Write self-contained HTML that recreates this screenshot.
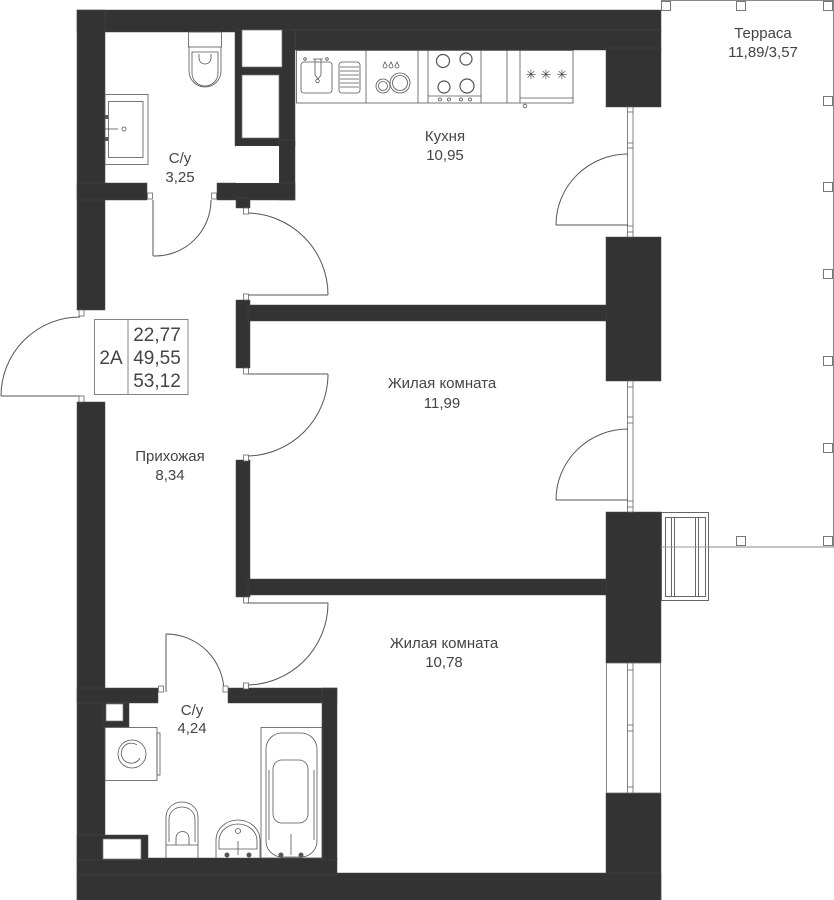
<!DOCTYPE html>
<html><head><meta charset="utf-8"><style>
html,body{margin:0;padding:0;background:#fff;}
svg{display:block;}
text{font-family:"Liberation Sans",sans-serif;fill:#444;}
</style></head><body>
<svg width="834" height="900" viewBox="0 0 834 900" xmlns="http://www.w3.org/2000/svg">
<!-- Terrace -->
<g fill="none" stroke="#888" stroke-width="1">
<path d="M661 0.5 H833.5 V547 H661"/>
</g>
<g fill="#fff" stroke="#777" stroke-width="1">
<rect x="661.5" y="1.5" width="9" height="9"/>
<rect x="736.5" y="1.5" width="9" height="9"/>
<rect x="823.5" y="1.5" width="9" height="9"/>
<rect x="823.5" y="96.5" width="9" height="9"/>
<rect x="823.5" y="182.5" width="9" height="9"/>
<rect x="823.5" y="269.5" width="9" height="9"/>
<rect x="823.5" y="356.5" width="9" height="9"/>
<rect x="823.5" y="443.5" width="9" height="9"/>
<rect x="823.5" y="536.5" width="9" height="9"/>
<rect x="736.5" y="536.5" width="9" height="9"/>
</g>
<!-- radiator -->
<g fill="none" stroke="#666" stroke-width="1">
<rect x="661.5" y="512.5" width="47" height="88"/>
<rect x="665.5" y="517.5" width="40" height="79"/>
<rect x="671.5" y="517.5" width="3" height="79"/>
<rect x="695.5" y="517.5" width="3" height="79"/>
</g>
<line x1="661" y1="547" x2="709" y2="547" stroke="#999" stroke-width="1"/>

<!-- Walls -->
<g fill="#333" stroke="#4a4a4a" stroke-width="0.5">
<rect x="77" y="10" width="584" height="22"/>
<rect x="295" y="30" width="366" height="20"/>
<rect x="606" y="48" width="55" height="59"/>
<rect x="235" y="30" width="60" height="116"/>
<rect x="279" y="140" width="16" height="60"/>
<rect x="77" y="10" width="28" height="300"/>
<rect x="77" y="183" width="70" height="17"/>
<rect x="217" y="183" width="78" height="17"/>
<rect x="236" y="198" width="14" height="10"/>
<rect x="236" y="300" width="14" height="68"/>
<rect x="248" y="305" width="360" height="16"/>
<rect x="606" y="237" width="55" height="144"/>
<rect x="236" y="460" width="14" height="137"/>
<rect x="248" y="579" width="360" height="16"/>
<rect x="606" y="512" width="55" height="151"/>
<rect x="606" y="793" width="55" height="107"/>
<rect x="77" y="402" width="28" height="498"/>
<rect x="77" y="873" width="584" height="27"/>
<rect x="77" y="858" width="260" height="17"/>
<rect x="77" y="688" width="81" height="15"/>
<rect x="228" y="688" width="109" height="15"/>
<rect x="322" y="688" width="15" height="172"/>
<rect x="103" y="703" width="26" height="24"/>
<rect x="77" y="835" width="71" height="25"/>
</g>
<!-- shaft boxes -->
<g fill="#fff" stroke="#777" stroke-width="0.7">
<rect x="242" y="30" width="40" height="37"/>
<rect x="242" y="75" width="37" height="63"/>
<rect x="106" y="704" width="17" height="17"/>
<rect x="103" y="839" width="38" height="20"/>
</g>
<rect x="236" y="146" width="43" height="37" fill="#fff"/>

<!-- Windows -->
<g fill="#fff" stroke="#666" stroke-width="0.8">
<rect x="627.5" y="107" width="5.5" height="130"/>
<rect x="627.5" y="381" width="5.5" height="131"/>
<rect x="606.5" y="663" width="54" height="130"/>
<rect x="627.5" y="663" width="5.5" height="130"/>
</g>
<g stroke="#666" stroke-width="0.8">
<line x1="627" y1="112" x2="633" y2="112"/>
<line x1="627" y1="143" x2="633" y2="143"/>
<line x1="627" y1="148" x2="633" y2="148"/>
<line x1="627" y1="226" x2="633" y2="226"/>
<line x1="627" y1="232" x2="633" y2="232"/>
<line x1="627" y1="387" x2="633" y2="387"/>
<line x1="627" y1="417" x2="633" y2="417"/>
<line x1="627" y1="423" x2="633" y2="423"/>
<line x1="627" y1="501" x2="633" y2="501"/>
<line x1="627" y1="507" x2="633" y2="507"/>
<line x1="627" y1="670" x2="633" y2="670"/>
<line x1="627" y1="725" x2="633" y2="725"/>
<line x1="627" y1="731" x2="633" y2="731"/>
<line x1="627" y1="787" x2="633" y2="787"/>
</g>

<!-- Doors -->
<g fill="none" stroke="#555" stroke-width="1">
<line x1="1" y1="396" x2="80" y2="396"/>
<path d="M1 396 A79 79 0 0 1 80 317"/>
<line x1="153" y1="200" x2="153" y2="256"/>
<path d="M153 256 A56 56 0 0 0 211 200"/>
<line x1="246" y1="295" x2="328" y2="295"/>
<path d="M328 295 A82 82 0 0 0 246 213"/>
<line x1="246" y1="374" x2="328" y2="374"/>
<path d="M328 374 A82 82 0 0 1 246 456"/>
<line x1="246" y1="603" x2="328" y2="603"/>
<path d="M328 603 A82 82 0 0 1 246 685"/>
<line x1="166" y1="692" x2="166" y2="634"/>
<path d="M166 634 A58 58 0 0 1 224 692"/>
<line x1="556" y1="225" x2="628" y2="225"/>
<path d="M556 225 A72 71 0 0 1 628 154"/>
<line x1="556" y1="500" x2="628" y2="500"/>
<path d="M556 500 A72 71 0 0 1 628 429"/>
</g>
<!-- jambs -->
<g fill="#fff" stroke="#666" stroke-width="0.8">
<rect x="79" y="310" width="5" height="6"/>
<rect x="79" y="396" width="5" height="6"/>
<rect x="147.5" y="193" width="5" height="6"/>
<rect x="211.5" y="193" width="5" height="6"/>
<rect x="243.5" y="208" width="5" height="6"/>
<rect x="243.5" y="294" width="5" height="6"/>
<rect x="243.5" y="368" width="5" height="6"/>
<rect x="243.5" y="455" width="5" height="6"/>
<rect x="243.5" y="597" width="5" height="6"/>
<rect x="243.5" y="683" width="5" height="6"/>
<rect x="158.5" y="686" width="5" height="6"/>
<rect x="223" y="686" width="5" height="6"/>
</g>

<!-- Kitchen counter -->
<g fill="none" stroke="#555" stroke-width="0.8">
<rect x="296.5" y="50.5" width="276.5" height="52.5"/>
<line x1="366" y1="50" x2="366" y2="103"/>
<line x1="418" y1="50" x2="418" y2="103"/>
<line x1="428" y1="50" x2="428" y2="103"/>
<line x1="481" y1="50" x2="481" y2="103"/>
<line x1="507" y1="50" x2="507" y2="103"/>
<line x1="520" y1="50" x2="520" y2="103"/>
<line x1="428" y1="96" x2="481" y2="96"/>
<line x1="520" y1="98" x2="573" y2="98"/>
<rect x="301" y="62" width="31" height="31" rx="3"/>
<path d="M313 59 H323 M315 59 V75 L318 79 L321 75 V59"/>
<circle cx="317.5" cy="81" r="1.8"/>
<circle cx="305" cy="59" r="1.3"/>
<circle cx="327" cy="59" r="1.3"/>
<rect x="339" y="62" width="21" height="31" rx="3"/>
<path d="M340 67H359 M340 71H359 M340 75H359 M340 79H359 M340 83H359 M340 87H359"/>
<circle cx="400" cy="83" r="10"/>
<circle cx="400" cy="83" r="7.5"/>
<circle cx="383" cy="86" r="7"/>
<circle cx="383" cy="86" r="4.5"/>
<path d="M385 62 L383 66 A2 2 0 0 0 387 66 Z M391 62 L389 66 A2 2 0 0 0 393 66 Z M397 62 L395 66 A2 2 0 0 0 399 66 Z"/>
<circle cx="443" cy="61" r="6.5" stroke-width="1.2"/>
<circle cx="466" cy="59" r="6" stroke-width="1.2"/>
<circle cx="444" cy="87" r="6" stroke-width="1.2"/>
<circle cx="467" cy="86" r="7" stroke-width="1.2"/>
<circle cx="440" cy="99.5" r="1.5"/>
<circle cx="449" cy="99.5" r="1.5"/>
<circle cx="461" cy="99.5" r="1.5"/>
<circle cx="470" cy="99.5" r="1.5"/>
<circle cx="525" cy="106" r="1.8"/>
</g>
<g font-family="Liberation Sans,sans-serif" font-size="13" fill="#555" text-anchor="middle">
<text x="531" y="79">✳</text><text x="546" y="79">✳</text><text x="562" y="79">✳</text>
</g>

<!-- Bath 1 fixtures -->
<g fill="none" stroke="#555" stroke-width="0.8">
<rect x="188.5" y="32" width="33" height="15"/>
<path d="M189 47 V71 A16 16 0 0 0 221 71 V47"/>
<path d="M192 52 H218 V73 A13 13 0 0 1 192 73 Z"/>
<path d="M199 54 V58 A6 6 0 0 0 211 58 V54"/>
<rect x="105" y="94.5" width="43" height="70"/>
<rect x="108.5" y="101.5" width="34.5" height="56"/>
<line x1="105" y1="129" x2="118" y2="129"/>
<circle cx="124" cy="129" r="2"/>
</g>
<rect x="105" y="115" width="3" height="4" fill="#555"/>
<rect x="105" y="137" width="3" height="4" fill="#555"/>

<!-- Bath 2 fixtures -->
<g fill="none" stroke="#555" stroke-width="0.8">
<rect x="105" y="727.5" width="52" height="53"/>
<rect x="157" y="733" width="3" height="42"/>
<circle cx="132" cy="754" r="14"/>
<path d="M140 758 A10 10 0 1 1 137 745"/>
<path d="M166 858 V845 H198 V858"/>
<path d="M166 845 V817 A16 15 0 0 1 198 817 V845"/>
<path d="M169 842 V819 A13 12 0 0 1 195 819 V842"/>
<path d="M176 845 V838 A6.5 6.5 0 0 1 189 838 V845"/>
<path d="M216 858 V840 A22 20 0 0 1 260 840 V858"/>
<path d="M219 849 V841 A19 17 0 0 1 257 841 V849 Z"/>
<circle cx="238" cy="831" r="2.5"/>
<line x1="238" y1="841" x2="238" y2="855"/>
<rect x="261" y="727.5" width="61" height="130.5"/>
<rect x="266" y="733" width="51" height="124" rx="16"/>
<rect x="273" y="760" width="35" height="63" rx="9"/>
<path d="M269 770 V840 M314 770 V840"/>
<line x1="291" y1="834" x2="291" y2="855"/>
</g>
<g fill="#555">
<circle cx="227" cy="855" r="2.5"/><circle cx="249" cy="855" r="2.5"/>
<circle cx="281" cy="855" r="2.5"/><circle cx="301" cy="855" r="2.5"/>
</g>

<!-- Info box -->
<g fill="none" stroke="#666" stroke-width="0.8">
<rect x="94.5" y="319.5" width="93.5" height="75"/>
<line x1="128" y1="319.5" x2="128" y2="394.5"/>
</g>
<g font-size="19" text-anchor="middle">
<text x="111" y="364">2A</text>
<text x="157" y="341">22,77</text>
<text x="157" y="364">49,55</text>
<text x="157" y="387">53,12</text>
</g>

<!-- Labels -->
<g font-size="15" text-anchor="middle">
<text x="763" y="38">Терраса</text>
<text x="763" y="57">11,89/3,57</text>
<text x="445" y="141">Кухня</text>
<text x="445" y="160">10,95</text>
<text x="180" y="163">С/у</text>
<text x="180" y="182">3,25</text>
<text x="170" y="461">Прихожая</text>
<text x="170" y="480">8,34</text>
<text x="442" y="388">Жилая комната</text>
<text x="442" y="408">11,99</text>
<text x="444" y="648">Жилая комната</text>
<text x="444" y="667">10,78</text>
<text x="192" y="715">С/у</text>
<text x="192" y="733">4,24</text>
</g>
</svg>
</body></html>
